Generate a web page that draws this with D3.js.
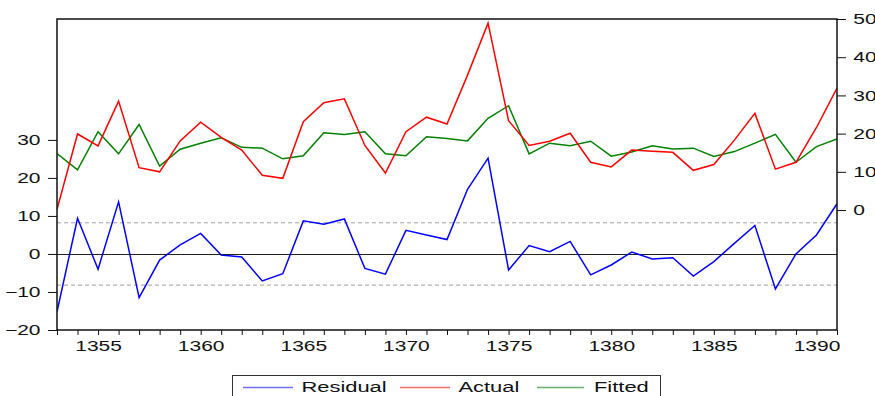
<!DOCTYPE html>
<html>
<head>
<meta charset="utf-8">
<script src="https://cdn.jsdelivr.net/npm/d3@7"></script>
<style>
  html, body { margin: 0; padding: 0; background: #fff; }
  svg { display: block; }
  text { font-family: "Liberation Sans", Arial, sans-serif; fill: #111; }
</style>
</head>
<body>
<svg id="chart" width="875" height="396"></svg>
<script>
// Years of the sample
const years = d3.range(1353, 1392);

// Actual and fitted values (right axis)
const actual = [0.2, 19.9, 16.8, 28.5, 11.1, 10.0, 18.1, 23.0, 19.0, 15.7,
                9.1, 8.3, 23.1, 28.1, 29.1, 16.9, 9.7, 20.5, 24.3, 22.5,
                35.3, 48.9, 23.4, 16.9, 18.0, 20.1, 12.5, 11.3, 15.7, 15.4,
                15.1, 10.4, 11.9, 18.3, 25.3, 10.7, 12.5, 21.6, 31.9];
const fitted = [14.8, 10.5, 20.5, 14.7, 22.4, 11.5, 15.9, 17.5, 18.9, 16.4,
                16.2, 13.4, 14.2, 20.2, 19.8, 20.5, 14.7, 14.2, 19.2, 18.7,
                18.1, 24.0, 27.3, 14.7, 17.5, 16.8, 18.0, 14.1, 15.2, 16.8,
                16.0, 16.2, 14.0, 15.3, 17.5, 19.8, 12.5, 16.6, 18.6];
// Residuals (left axis)
const residual = [-15.2, 9.4, -4.0, 13.7, -11.5, -1.6, 2.4, 5.4, -0.3, -0.8,
                  -7.1, -5.2, 8.7, 7.8, 9.2, -3.8, -5.3, 6.2, 5.0, 3.8,
                  17.0, 25.2, -4.2, 2.2, 0.6, 3.3, -5.5, -2.9, 0.5, -1.3,
                  -1.0, -5.8, -2.0, 2.8, 7.5, -9.2, 0.0, 5.0, 13.2];

// Residual standard error bands
const seBand = [8.2, -8.2];

// Tick values
const leftTicks = [-20, -10, 0, 10, 20, 30];
const rightTicks = [0, 10, 20, 30, 40, 50];
const xLabelYears = [1355, 1360, 1365, 1370, 1375, 1380, 1385, 1390];

const seriesNames = ["Residual", "Actual", "Fitted"];
const seriesColors = ["#0000ff", "#ff0000", "#008000"];
const legendColors = ["#7070ff", "#f06a6a", "#6aae6a"];

const svg = d3.select("#chart");
const L = 57, R = 837, T = 19, B = 330;
const SX = 1.5; // horizontal stretch of the labels

const x = d3.scaleLinear().domain([1353, 1391]).range([L, R]);
const yL = d3.scaleLinear().domain([-20, 61.8]).range([B, T]);
const yR = d3.scaleLinear().domain([-31.4, 50]).range([B, T]);

// Reference lines
svg.append("g").selectAll("line").data(seBand).join("line")
  .attr("x1", L).attr("x2", R)
  .attr("y1", d => yL(d)).attr("y2", d => yL(d))
  .attr("stroke", "#a0a0a0").attr("stroke-width", 1)
  .attr("stroke-dasharray", "4,3");

svg.append("line")
  .attr("x1", L).attr("x2", R)
  .attr("y1", Math.round(yL(0)) + 0.5).attr("y2", Math.round(yL(0)) + 0.5)
  .attr("stroke", "#222").attr("stroke-width", 1);

// Series lines
const lineL = d3.line().x((d, i) => x(years[i])).y(d => yL(d));
const lineR = d3.line().x((d, i) => x(years[i])).y(d => yR(d));

svg.append("clipPath").attr("id", "plotclip")
  .append("rect").attr("x", L).attr("y", T).attr("width", R - L).attr("height", B - T);

const plot = svg.append("g").attr("clip-path", "url(#plotclip)");
plot.append("path").datum(fitted).attr("d", lineR)
  .attr("fill", "none").attr("stroke", seriesColors[2]).attr("stroke-width", 1.5);
plot.append("path").datum(actual).attr("d", lineR)
  .attr("fill", "none").attr("stroke", seriesColors[1]).attr("stroke-width", 1.5);
plot.append("path").datum(residual).attr("d", lineL)
  .attr("fill", "none").attr("stroke", seriesColors[0]).attr("stroke-width", 1.5);

// Frame
svg.append("rect")
  .attr("x", L).attr("y", T).attr("width", R - L).attr("height", B - T)
  .attr("fill", "none").attr("stroke", "#111").attr("stroke-width", 1.5);

// Left axis
const gL = svg.append("g").attr("transform", `translate(${L},0)`)
  .call(d3.axisLeft(yL).tickValues(leftTicks).tickSize(9).tickPadding(0));
gL.select(".domain").remove();
gL.selectAll("line").attr("stroke", "#111");
gL.selectAll("text")
  .attr("x", -16.5 / SX).attr("dy", "0.34em")
  .attr("transform", `scale(${SX},1)`)
  .style("font-size", "14px").attr("fill", "#111");

// Right axis
const gR = svg.append("g").attr("transform", `translate(${R},0)`)
  .call(d3.axisRight(yR).tickValues(rightTicks).tickSize(9).tickPadding(0));
gR.select(".domain").remove();
gR.selectAll("line").attr("stroke", "#111");
gR.selectAll("text")
  .attr("x", 16.3 / SX).attr("dy", "0.34em")
  .attr("transform", `scale(${SX},1)`)
  .style("font-size", "14px").attr("fill", "#111");

// Bottom axis: a tick every year, labels every five years
const gB = svg.append("g").attr("transform", `translate(0,${B})`)
  .call(d3.axisBottom(x).tickValues(years).tickSize(5).tickPadding(0)
    .tickFormat(d => xLabelYears.includes(d) ? String(d) : ""));
gB.select(".domain").remove();
gB.selectAll("line").attr("stroke", "#111");
gB.selectAll("text")
  .attr("x", 0).attr("y", 11.5).attr("dy", "0.71em")
  .attr("transform", `scale(${SX},1)`)
  .style("font-size", "14px").attr("fill", "#111");

// Legend
const legend = svg.append("g");
legend.append("rect")
  .attr("x", 232.5).attr("y", 375.5).attr("width", 428).attr("height", 30)
  .attr("fill", "#fff").attr("stroke", "#333").attr("stroke-width", 1);

const legendLayout = [
  { x1: 243, x2: 293, tx: 301.5 },
  { x1: 400, x2: 450, tx: 458.5 },
  { x1: 537, x2: 584, tx: 594 }
];
seriesNames.forEach((name, i) => {
  const p = legendLayout[i];
  legend.append("line")
    .attr("x1", p.x1).attr("x2", p.x2).attr("y1", 387.5).attr("y2", 387.5)
    .attr("stroke", legendColors[i]).attr("stroke-width", 1.5);
  legend.append("text")
    .attr("transform", `translate(${p.tx},391.5) scale(1.46,1)`)
    .style("font-size", "15px").attr("fill", "#111")
    .text(name);
});
</script>
</body>
</html>
